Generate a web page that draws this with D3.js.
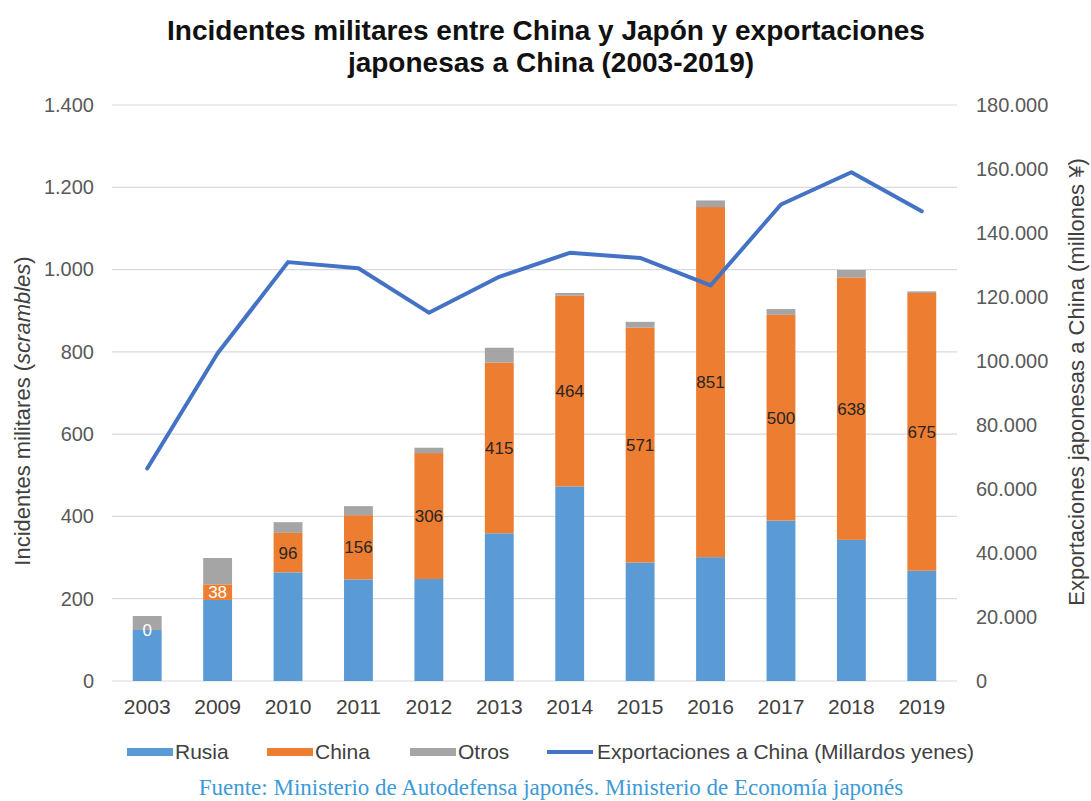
<!DOCTYPE html>
<html>
<head>
<meta charset="utf-8">
<script src="https://cdn.jsdelivr.net/npm/d3@7"></script>
<style>
  body { margin: 0; background: #fff; }
  text { font-family: "Liberation Sans", Arial, sans-serif; }
</style>
</head>
<body>
<div id="chart"></div>
<script>
var years = ["2003", "2009", "2010", "2011", "2012", "2013", "2014", "2015", "2016", "2017", "2018", "2019"];
var rusia = [124, 197, 264, 247, 248, 359, 473, 288, 301, 390, 343, 268];
var china = [0, 38, 96, 156, 306, 415, 464, 571, 851, 500, 638, 675];
var otros = [34, 64, 26, 22, 13, 36, 6, 14, 16, 14, 18, 4];
var exportaciones = [66400, 102400, 130900, 129000, 115100, 126300, 133800, 132200, 123600, 148900, 159000, 146800];
var leftTicks = [0, 200, 400, 600, 800, 1000, 1200, 1400];
var rightTicks = [0, 20000, 40000, 60000, 80000, 100000, 120000, 140000, 160000, 180000];

var width = 1091, height = 801;
var margin = {top: 105, right: 134, bottom: 120, left: 112};
var plotW = width - margin.left - margin.right,
    plotH = height - margin.top - margin.bottom;

var locale = d3.formatLocale({decimal: ",", thousands: ".", grouping: [3], currency: ["", ""]});
var fmt = locale.format(",");

var svg = d3.select("#chart").append("svg")
  .attr("width", width)
  .attr("height", height);

var g = svg.append("g")
  .attr("transform", "translate(" + margin.left + "," + margin.top + ")");

var x = d3.scaleBand()
  .domain(years)
  .range([0, plotW])
  .paddingInner(0.59)
  .paddingOuter(0.295);

var yL = d3.scaleLinear().domain([0, 1400]).range([plotH, 0]);
var yR = d3.scaleLinear().domain([0, 180000]).range([plotH, 0]);

// grid
g.selectAll(".grid")
  .data(leftTicks)
  .enter().append("line")
  .attr("x1", 0).attr("x2", plotW)
  .attr("y1", function (d) { return yL(d); })
  .attr("y2", function (d) { return yL(d); })
  .attr("stroke", "#d9d9d9")
  .attr("stroke-width", 1.2);

// left axis
var leftAxis = g.append("g")
  .call(d3.axisLeft(yL).tickValues(leftTicks).tickFormat(fmt).tickSize(0).tickPadding(18));
leftAxis.select(".domain").remove();
leftAxis.selectAll("text")
  .style("font-size", "20px")
  .attr("fill", "#595959");

// right axis
var rightAxis = g.append("g")
  .attr("transform", "translate(" + plotW + ",0)")
  .call(d3.axisRight(yR).tickValues(rightTicks).tickFormat(fmt).tickSize(0).tickPadding(19));
rightAxis.select(".domain").remove();
rightAxis.selectAll("text")
  .style("font-size", "20px")
  .attr("fill", "#595959");

// x axis
var xAxis = g.append("g")
  .attr("transform", "translate(0," + plotH + ")")
  .call(d3.axisBottom(x).tickSize(0).tickPadding(18));
xAxis.select(".domain").remove();
xAxis.selectAll("text")
  .style("font-size", "21px")
  .attr("fill", "#404040");

// stacked bars
var rows = years.map(function (y, i) {
  return {year: y, rusia: rusia[i], china: china[i], otros: otros[i]};
});
var keys = ["rusia", "china", "otros"];
var colors = {rusia: "#5b9bd5", china: "#ed7d31", otros: "#a5a5a5"};
var stacked = d3.stack().keys(keys)(rows);

g.selectAll(".serie")
  .data(stacked)
  .enter().append("g")
  .attr("fill", function (d) { return colors[d.key]; })
  .selectAll("rect")
  .data(function (d) { return d; })
  .enter().append("rect")
  .attr("x", function (d) { return x(d.data.year); })
  .attr("width", x.bandwidth())
  .attr("y", function (d) { return yL(d[1]); })
  .attr("height", function (d) { return yL(d[0]) - yL(d[1]); });

// china labels
var chinaStack = stacked[1];
g.selectAll(".lbl")
  .data(chinaStack)
  .enter().append("text")
  .attr("x", function (d) { return x(d.data.year) + x.bandwidth() / 2; })
  .attr("y", function (d) { return (yL(d[0]) + yL(d[1])) / 2; })
  .attr("dy", "0.35em")
  .attr("text-anchor", "middle")
  .style("font-size", "17px")
  .attr("fill", function (d) { return d.data.china < 50 ? "#ffffff" : "#262626"; })
  .text(function (d) { return d.data.china; });

// export line
var line = d3.line()
  .x(function (d, i) { return x(years[i]) + x.bandwidth() / 2; })
  .y(function (d) { return yR(d); });
g.append("path")
  .datum(exportaciones)
  .attr("d", line)
  .attr("fill", "none")
  .attr("stroke", "#4472c4")
  .attr("stroke-width", 4)
  .attr("stroke-linejoin", "round")
  .attr("stroke-linecap", "round");

// title
var title = svg.append("text")
  .attr("text-anchor", "middle")
  .style("font-size", "28px")
  .style("font-weight", "bold")
  .attr("fill", "#111");
title.append("tspan").attr("x", 546).attr("y", 40).text("Incidentes militares entre China y Japón y exportaciones");
title.append("tspan").attr("x", 551).attr("y", 72).text("japonesas a China (2003-2019)");

// axis titles
var lt = svg.append("text")
  .attr("transform", "translate(30,411) rotate(-90)")
  .attr("text-anchor", "middle")
  .style("font-size", "22px")
  .attr("fill", "#404040");
lt.append("tspan").text("Incidentes militares (");
lt.append("tspan").style("font-style", "italic").text("scrambles");
lt.append("tspan").text(")");

svg.append("text")
  .attr("transform", "translate(1084,382) rotate(-90)")
  .attr("text-anchor", "middle")
  .style("font-size", "22px")
  .attr("fill", "#404040")
  .text("Exportaciones japonesas a China (millones ¥)");

// legend
var legend = [
  {name: "Rusia", color: colors.rusia, type: "bar", x: 127},
  {name: "China", color: colors.china, type: "bar", x: 267},
  {name: "Otros", color: colors.otros, type: "bar", x: 410},
  {name: "Exportaciones a China (Millardos yenes)", color: "#4472c4", type: "line", x: 547}
];
var lg = svg.selectAll(".leg")
  .data(legend)
  .enter().append("g")
  .attr("transform", function (d) { return "translate(" + d.x + ",752)"; });
lg.append("rect")
  .attr("x", 0)
  .attr("y", function (d) { return d.type === "bar" ? -4 : -2; })
  .attr("width", 46)
  .attr("height", function (d) { return d.type === "bar" ? 8 : 4; })
  .attr("fill", function (d) { return d.color; });
lg.append("text")
  .attr("x", function (d) { return d.type === "bar" ? 48 : 50; })
  .attr("dy", "0.35em")
  .style("font-size", "21px")
  .attr("fill", "#404040")
  .text(function (d) { return d.name; });

// source
svg.append("text")
  .attr("x", 551)
  .attr("y", 795)
  .attr("text-anchor", "middle")
  .style("font-family", "'Liberation Serif', 'Times New Roman', serif")
  .style("font-size", "23px")
  .attr("fill", "#3d9ad6")
  .text("Fuente: Ministerio de Autodefensa japonés. Ministerio de Economía japonés");
</script>
</body>
</html>
